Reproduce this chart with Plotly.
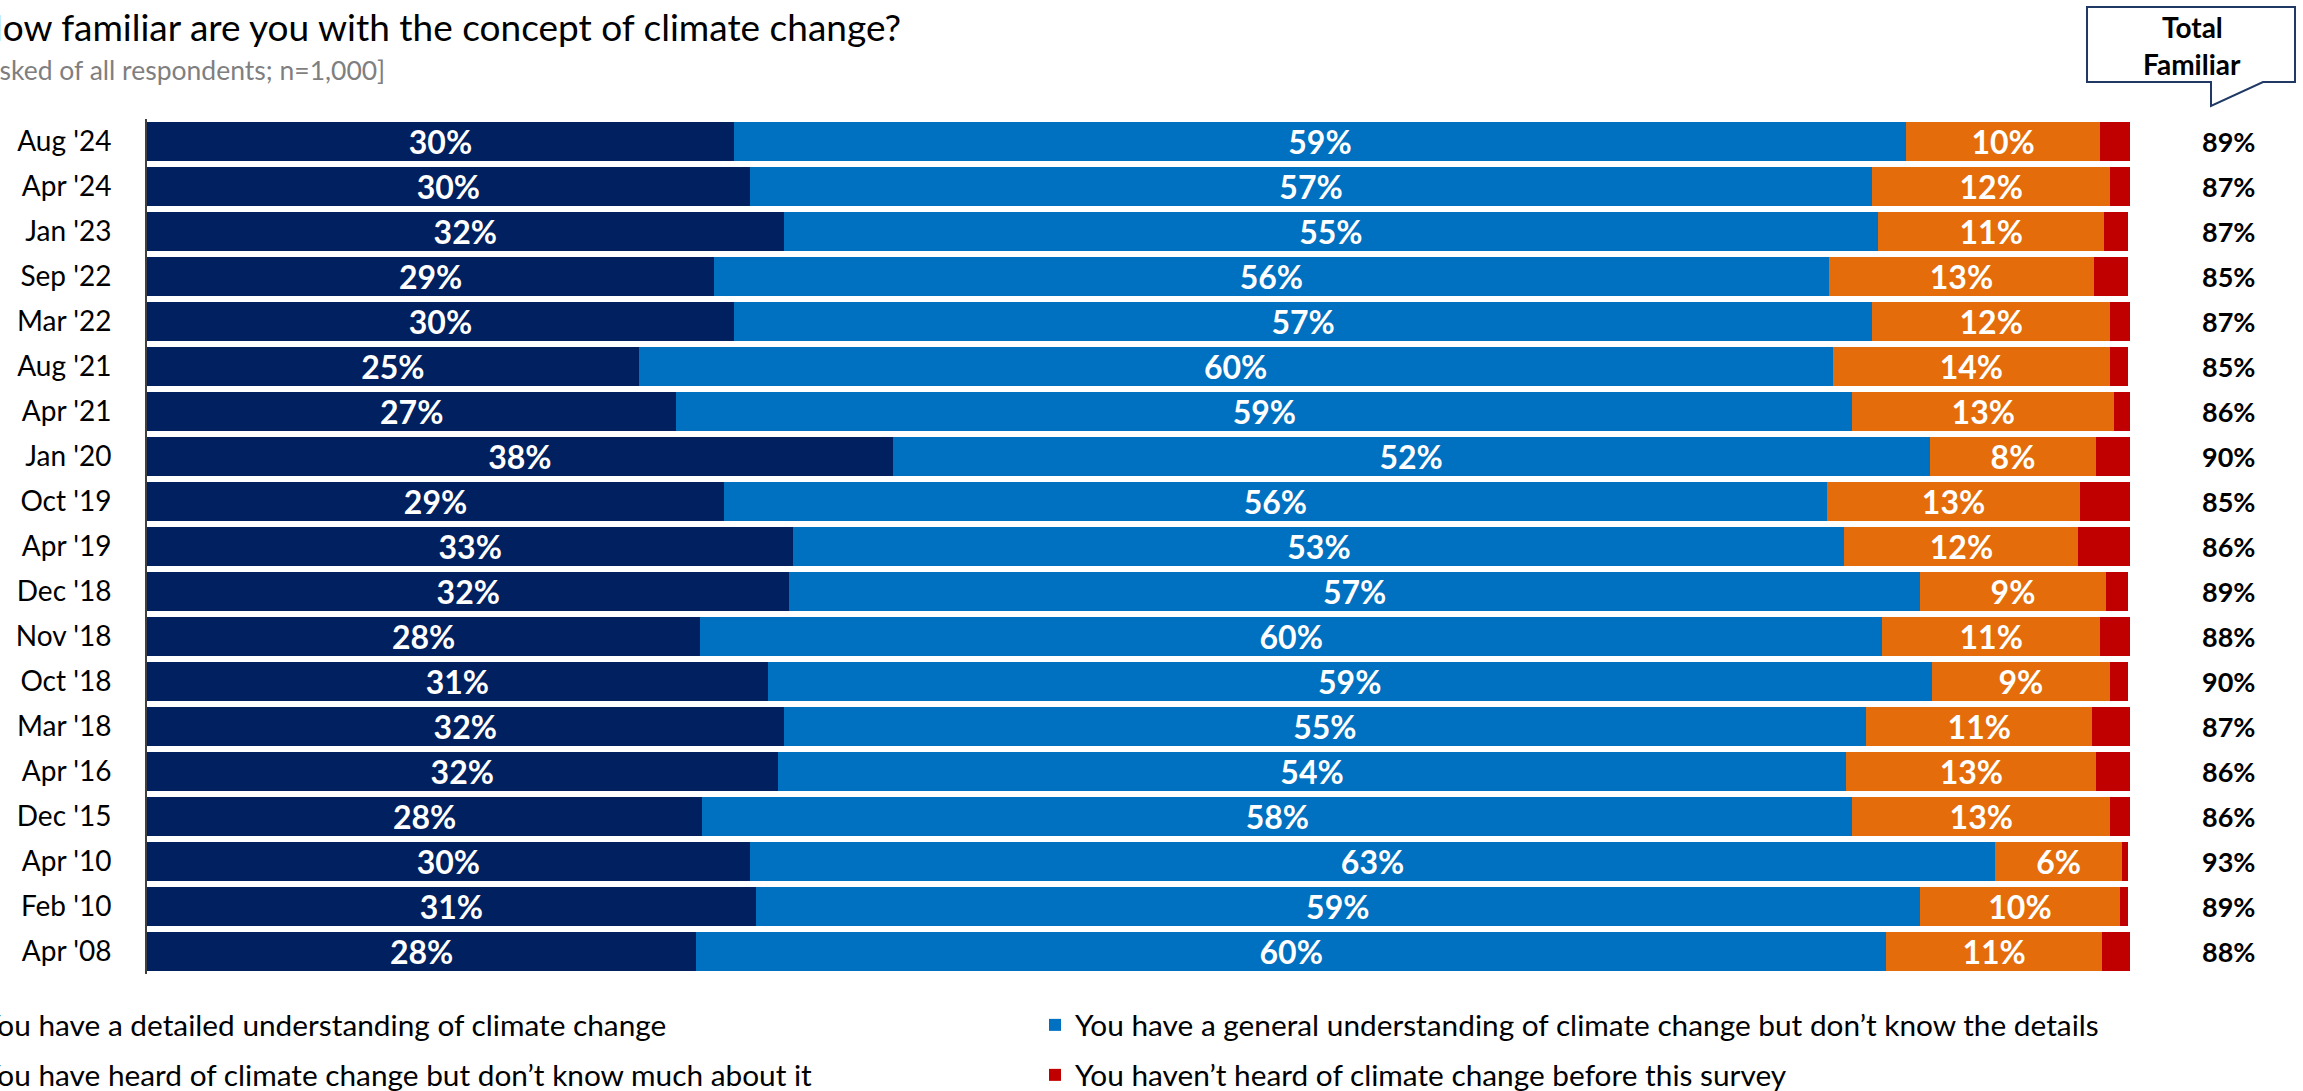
import plotly.graph_objects as go

# ---------------- data ----------------
waves = ["Aug '24", "Apr '24", "Jan '23", "Sep '22", "Mar '22", "Aug '21", "Apr '21",
         "Jan '20", "Oct '19", "Apr '19", "Dec '18", "Nov '18", "Oct '18", "Mar '18",
         "Apr '16", "Dec '15", "Apr '10", "Feb '10", "Apr '08"]
detailed = [29.6, 30.4, 32.1, 28.6, 29.6, 24.8, 26.7, 37.6, 29.1, 32.6, 32.4, 27.9, 31.3,
            32.1, 31.8, 28.0, 30.4, 30.7, 27.7]
general = [59.1, 56.6, 55.2, 56.2, 57.4, 60.2, 59.3, 52.3, 55.6, 53.0, 57.0, 59.6, 58.7,
           54.6, 53.9, 58.0, 62.8, 58.7, 60.0]
heard = [9.8, 12.0, 11.4, 13.4, 12.0, 14.0, 13.2, 8.4, 12.8, 11.8, 9.4, 11.0, 9.0,
         11.4, 12.6, 13.0, 6.4, 10.1, 10.9]
not_heard = [1.5, 1.0, 1.2, 1.7, 1.0, 0.9, 0.8, 1.7, 2.5, 2.6, 1.1, 1.5, 0.9,
             1.9, 1.7, 1.1, 0.3, 0.4, 1.4]
total_familiar = [89, 87, 87, 85, 87, 85, 86, 90, 85, 86, 89, 88, 90, 87, 86, 86, 93, 89, 88]

series_names = [
    "You have a detailed understanding of climate change",
    "You have a general understanding of climate change but don\u2019t know the details",
    "You have heard of climate change but don\u2019t know much about it",
    "You haven\u2019t heard of climate change before this survey",
]
series_values = [detailed, general, heard, not_heard]
series_colors = ["#002060", "#0070C0", "#E46C0A", "#C00000"]
series_labels = [True, True, True, False]

title_text = "How familiar are you with the concept of climate change?"
subtitle_text = "[Asked of all respondents; n=1,000]"
callout_lines = ["Total", "Familiar"]

# ---------------- layout geometry ----------------
W, H = 2303, 1091
ML, MR, MT, MB = 147, 173, 119, 117
PW, PH = W - ML - MR, H - MT - MB
FONT = "Lato"


def px2x(px):
    return (px - ML) / PW


def py2y(py):
    return (H - MB - py) / PH


# legend slots: (text start x, row centre y)
legend_slots = [(-16, 1025), (1077, 1025), (-16, 1075), (1077, 1075)]
legend_ids = ["legend", "legend2", "legend3", "legend4"]

fig = go.Figure()
for name, vals, col, lab, lid in zip(series_names, series_values, series_colors,
                                      series_labels, legend_ids):
    fig.add_trace(go.Bar(
        y=waves, x=vals, name=name, orientation="h",
        marker=dict(color=col, line=dict(width=0)),
        texttemplate="<b>%{x:.0f}%</b>" if lab else None,
        textposition="inside" if lab else "none",
        insidetextanchor="middle",
        textangle=0,
        constraintext="none",
        textfont=dict(family=FONT, size=32, color="white"),
        legend=lid,
        hoverinfo="skip",
    ))

legend_layout = {}
for lid, (tx, ty) in zip(legend_ids, legend_slots):
    legend_layout[lid] = dict(
        orientation="h", x=px2x(tx - 42), xanchor="left", y=py2y(ty), yanchor="middle",
        font=dict(family=FONT, size=29.8, color="black"),
        bgcolor="rgba(0,0,0,0)", borderwidth=0)

fig.update_layout(
    width=W, height=H,
    margin=dict(l=ML, r=MR, t=MT, b=MB, autoexpand=False),
    barmode="stack", bargap=0.14,
    plot_bgcolor="white", paper_bgcolor="white",
    font=dict(family=FONT, size=28, color="black"),
    xaxis=dict(range=[0, 100], visible=False, fixedrange=True),
    yaxis=dict(range=[len(waves) - 0.5, -0.5], showline=True, linecolor="#404040", linewidth=2,
               ticks="", ticklabelstandoff=28,
               tickfont=dict(family=FONT, size=28, color="black"), showgrid=False,
               fixedrange=True),
    showlegend=True,
    **legend_layout,
)

# Total familiar column
for w, v in zip(waves, total_familiar):
    fig.add_annotation(text=f"<b>{v}%</b>", xref="paper", yref="y", x=px2x(2228), y=w,
                       xanchor="center", yanchor="middle", showarrow=False,
                       font=dict(family=FONT, size=27, color="black"))

# Title & subtitle
fig.add_annotation(text=title_text, xref="paper", yref="paper", x=px2x(-27), y=py2y(26),
                   xanchor="left", yanchor="middle", showarrow=False,
                   font=dict(family=FONT, size=37, color="black"))
fig.add_annotation(text=subtitle_text, xref="paper", yref="paper", x=px2x(-28), y=py2y(70),
                   xanchor="left", yanchor="middle", showarrow=False,
                   font=dict(family=FONT, size=26.5, color="#7F7F7F"))

# Callout "Total Familiar"
pts = [(2087, 7), (2295, 7), (2295, 82), (2263, 82), (2211, 106), (2211, 82), (2087, 82)]
path = "M " + " L ".join(f"{px2x(a):.5f},{py2y(b):.5f}" for a, b in pts) + " Z"
fig.add_shape(type="path", path=path, xref="paper", yref="paper",
              line=dict(color="#1F3864", width=2), fillcolor="white", layer="above")
for txt, yy in zip(callout_lines, [27, 64]):
    fig.add_annotation(text=f"<b>{txt}</b>", xref="paper", yref="paper", x=px2x(2192), y=py2y(yy),
                       xanchor="center", yanchor="middle", showarrow=False,
                       font=dict(family=FONT, size=28, color="black"))

fig.write_html("out.html", post_script="document.body.style.margin='0';",
               config={"displayModeBar": False})
